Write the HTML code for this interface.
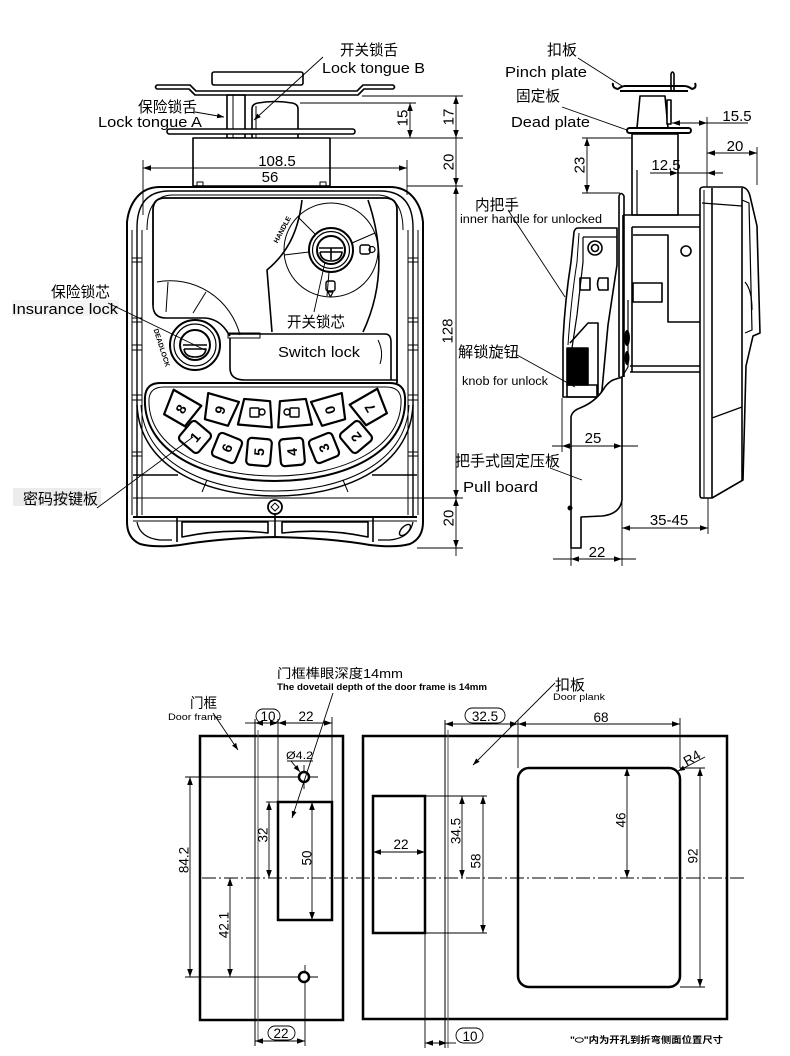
<!DOCTYPE html>
<html><head><meta charset="utf-8"><style>
html,body{margin:0;padding:0;background:#fff;}
svg{display:block;}
</style></head><body>
<svg width="790" height="1056" viewBox="0 0 790 1056" xmlns="http://www.w3.org/2000/svg" font-family="'Liberation Sans','Noto Sans CJK SC',sans-serif">
<defs>
<marker id="ar" viewBox="0 0 10 10" refX="10" refY="5" markerWidth="8" markerHeight="8" markerUnits="userSpaceOnUse" orient="auto-start-reverse"><path d="M0,1.5 L10,5 L0,8.5 Z" fill="#000"/></marker>
<marker id="ar2" viewBox="0 0 10 10" refX="10" refY="5" markerWidth="7" markerHeight="7" markerUnits="userSpaceOnUse" orient="auto"><path d="M0,1.5 L10,5 L0,8.5 Z" fill="#000"/></marker>
</defs>
<rect width="790" height="1056" fill="#fff"/>

<!-- ================= FRONT VIEW ================= -->
<g fill="none" stroke="#000" stroke-width="1.6" stroke-linejoin="round">
  <rect x="212" y="72" width="91" height="13" rx="2" fill="#fff"/>
  <path d="M157,85 L190,85 L196,91 L357,91 L363,85 L393,85 Q396,87 393,89 L364,89 L358,95 L195,95 L189,89 L157,89 Q154,87 157,85Z" fill="#fff"/>
  <rect x="227" y="95" width="18" height="43"/>
  <line x1="233" y1="95" x2="233" y2="138" stroke-width="1"/>
  <path d="M252,138 L252,109 Q252,104 258,103 Q275,100 292,103 Q298,104 298,109 L298,138"/>
  <line x1="256" y1="106" x2="256" y2="138" stroke-width="1"/>
  <rect x="167" y="129" width="188" height="5" rx="2.5" fill="#fff"/>
  <rect x="193" y="138" width="137" height="48" fill="#fff"/>
  <rect x="197" y="182" width="6" height="5" stroke-width="1"/>
  <rect x="320" y="182" width="6" height="5" stroke-width="1"/>

  <path d="M160,187 L390,187 Q402,187 410,194 Q421,204 423,222 L423,522 Q423,538 410,544 Q395,548 370,545 Q330,538 275,537 Q220,538 180,545 Q155,548 140,544 Q127,538 127,522 L127,222 Q129,204 140,194 Q148,187 160,187 Z" stroke-width="2"/>
  <path d="M137,228 Q137,192 168,191 L382,191 Q413,192 413,228 L413,517" stroke-width="1.4"/>
  <path d="M137,228 L137,517" stroke-width="1.4"/>
  <path d="M147,230 Q147,196 172,195 L378,195 Q403,196 403,230" stroke-width="1"/>
  <g stroke-width="1">
    <line x1="132" y1="230" x2="132" y2="515"/>
    <line x1="142" y1="230" x2="142" y2="515"/>
    <line x1="132" y1="258" x2="142" y2="258"/><line x1="132" y1="262" x2="142" y2="262"/>
    <line x1="132" y1="318" x2="142" y2="318"/><line x1="132" y1="322" x2="142" y2="322"/>
    <line x1="132" y1="345" x2="142" y2="345"/><line x1="132" y1="350" x2="142" y2="350"/>
    <line x1="132" y1="395" x2="142" y2="395"/><line x1="132" y1="400" x2="142" y2="400"/>
    <line x1="132" y1="452" x2="142" y2="452"/><line x1="132" y1="456" x2="142" y2="456"/>
    <line x1="408" y1="230" x2="408" y2="515"/>
    <line x1="418" y1="230" x2="418" y2="515"/>
    <line x1="408" y1="258" x2="418" y2="258"/><line x1="408" y1="262" x2="418" y2="262"/>
    <line x1="408" y1="318" x2="418" y2="318"/><line x1="408" y1="322" x2="418" y2="322"/>
    <line x1="408" y1="345" x2="418" y2="345"/><line x1="408" y1="350" x2="418" y2="350"/>
    <line x1="408" y1="395" x2="418" y2="395"/><line x1="408" y1="400" x2="418" y2="400"/>
    <line x1="408" y1="452" x2="418" y2="452"/><line x1="408" y1="456" x2="418" y2="456"/>
  </g>

  <path d="M153,305 L153,210 Q153,198 165,198 L385,198 Q397,198 397,210 L397,383" stroke-width="1.8"/>
  <path d="M153,305 Q153,318 166,318 L205,318 Q218,319 226,330 L230,336"/>
  <rect x="228" y="333" width="32" height="5" stroke-width="1"/>
  <path d="M228,334 L385,334 Q391,334 391,342 L391,380"/>
  <path d="M230,338 L230,368 Q230,380 245,380 L397,380"/>
  <path d="M378,340 Q384,352 380,364" stroke-width="1"/>
  <path d="M157,282 A72,72 0 0 1 240,335" stroke-width="1"/>
  <line x1="168" y1="282" x2="166" y2="312" stroke-width="1"/>
  <line x1="206" y1="292" x2="193" y2="313" stroke-width="1"/>
  <circle cx="195" cy="345" r="25" fill="#fff" stroke-width="2"/>
  <circle cx="195" cy="345" r="21" stroke-width="1.2"/>
  <circle cx="195" cy="345" r="15" stroke-width="2"/>
  <path d="M183,345 L207,345 M184,349 L206,349 Q205,357 195,357 Q185,357 184,349" stroke-width="1.6"/>
  <path d="M302,200 C298,235 285,255 267,270 L272,332"/>
  <path d="M368,200 Q392,270 363,332"/>
  <circle cx="331" cy="250" r="47" stroke-width="1"/>
  <g stroke-width="1">
    <line x1="315" y1="234" x2="298" y2="217"/>
    <line x1="352" y1="243" x2="375" y2="233"/>
    <line x1="309" y1="252" x2="284" y2="255"/>
    <line x1="329" y1="272" x2="327" y2="296"/>
  </g>
  <circle cx="331" cy="250" r="22" fill="#fff" stroke-width="2"/>
  <circle cx="331" cy="250" r="18.5" stroke-width="1.2"/>
  <circle cx="331" cy="250" r="14" stroke-width="2"/>
  <path d="M319,248 L343,248 M320,252 L342,252 Q341,261 331,261 Q321,261 320,252 M331,248 L331,260" stroke-width="1.6"/>
  <rect x="360" y="245" width="10" height="9" rx="2" stroke-width="1.4"/>
  <circle cx="372" cy="249.5" r="3" stroke-width="1.2"/>
  <rect x="326" y="281" width="9" height="10" rx="2" stroke-width="1.4"/>
  <path d="M328,292 L333,292 L330.5,297 Z" stroke-width="1.2"/>

  <path d="M137,405 C140,470 210,496 275,496 C340,496 410,470 413,405" stroke-width="1.5"/>
  <path d="M141,405 C144,466 212,491 275,491 C338,491 406,466 409,405" stroke-width="1"/>
  <path d="M160,383 L390,383 Q404,383 405,397 C408,452 345,481 275,481 C205,481 142,452 145,397 Q146,383 160,383 Z" stroke-width="2" fill="#fff"/>
  <path d="M164,387 L386,387 Q400,387 401,399 C403,448 343,476 275,476 C207,476 147,448 149,399 Q150,387 164,387 Z" stroke-width="1"/>
  <line x1="133" y1="475" x2="178" y2="475" stroke-width="1.4"/>
  <line x1="372" y1="475" x2="417" y2="475" stroke-width="1.4"/>
  <line x1="207" y1="480" x2="202" y2="492" stroke-width="1"/>
  <line x1="343" y1="480" x2="348" y2="492" stroke-width="1"/>
  <line x1="133" y1="517" x2="417" y2="517" stroke-width="2"/>
  <line x1="133" y1="521" x2="417" y2="521" stroke-width="1"/>
  <line x1="177" y1="517" x2="177" y2="542" stroke-width="1.6"/>
  <line x1="275" y1="514" x2="275" y2="538" stroke-width="1.6"/>
  <line x1="373" y1="517" x2="373" y2="542" stroke-width="1.6"/>
  <path d="M182,522 L268,522 L268,533 Q225,528 182,537 Z" stroke-width="1.6"/>
  <path d="M282,522 L368,522 L368,537 Q325,528 282,533 Z" stroke-width="1.6"/>
  <path d="M137,522 Q140,538 160,540 L172,540" stroke-width="1.2"/>
  <path d="M413,522 Q410,538 390,540 L378,540" stroke-width="1.2"/>
  <ellipse cx="405" cy="530" rx="7" ry="3.5" transform="rotate(-45 405 530)" stroke-width="1.4"/>
  <circle cx="275" cy="507" r="7" fill="#fff" stroke-width="1.8"/>
  <path d="M275,503 L279,507 L275,511 L271,507 Z" stroke-width="1"/>
</g>

<!-- keys -->
<g fill="none" stroke="#000" stroke-width="2.2" stroke-linejoin="round">
  <g transform="translate(181,409) rotate(30)"><path d="M-16,-13 L16,-13 L12,13 L-12,13 Z"/></g>
  <g transform="translate(220,410) rotate(16)"><path d="M-16,-13 L16,-13 L12,13 L-12,13 Z"/></g>
  <g transform="translate(256,413) rotate(5)"><path d="M-13,-13 L13,-13 L17,13 L-17,13 Z"/></g>
  <g transform="translate(294,413) rotate(-5)"><path d="M-13,-13 L13,-13 L17,13 L-17,13 Z"/></g>
  <g transform="translate(330,410) rotate(-16)"><path d="M-16,-13 L16,-13 L12,13 L-12,13 Z"/></g>
  <g transform="translate(370,408) rotate(-30)"><path d="M-16,-13 L16,-13 L12,13 L-12,13 Z"/></g>
  <g transform="translate(195,437) rotate(40)"><rect x="-12.5" y="-12.5" width="25" height="25" rx="4"/></g>
  <g transform="translate(227,448) rotate(22)"><rect x="-12.5" y="-12.5" width="25" height="25" rx="4"/></g>
  <g transform="translate(259,452) rotate(5)"><rect x="-12" y="-13.5" width="24" height="27" rx="4"/></g>
  <g transform="translate(292,452) rotate(-5)"><rect x="-12" y="-13.5" width="24" height="27" rx="4"/></g>
  <g transform="translate(324,448) rotate(-22)"><rect x="-12.5" y="-12.5" width="25" height="25" rx="4"/></g>
  <g transform="translate(356,437) rotate(-40)"><rect x="-12.5" y="-12.5" width="25" height="25" rx="4"/></g>
  <g stroke-width="1.4">
    <rect x="250" y="408" width="9" height="9" rx="1"/><circle cx="262" cy="412" r="3"/>
    <rect x="290" y="408" width="9" height="9" rx="1"/><circle cx="287" cy="412" r="3"/>
  </g>
</g>
<g font-weight="bold" font-size="14" fill="#000" text-anchor="middle" dominant-baseline="central" font-family="'Liberation Sans',sans-serif">
  <text transform="translate(181,409) rotate(-60)">8</text>
  <text transform="translate(220,410) rotate(-74)">9</text>
  <text transform="translate(330,410) rotate(-106)">0</text>
  <text transform="translate(370,408) rotate(-120)">7</text>
  <text transform="translate(195,437) rotate(-50)">1</text>
  <text transform="translate(227,448) rotate(-68)">6</text>
  <text transform="translate(259,452) rotate(-85)">5</text>
  <text transform="translate(292,452) rotate(-95)">4</text>
  <text transform="translate(324,448) rotate(-112)">3</text>
  <text transform="translate(356,437) rotate(-130)">2</text>
</g>
<g font-weight="bold" font-size="7" fill="#000" text-anchor="middle" dominant-baseline="central" font-family="'Liberation Sans',sans-serif">
  <text transform="translate(283,230) rotate(-62)">HANDLE</text>
  <text transform="translate(161,348) rotate(72)">DEADLOCK</text>
</g>

<!-- front view dimensions -->
<g stroke="#000" stroke-width="0.9" fill="none">
  <line x1="362" y1="96" x2="463" y2="96"/>
  <line x1="300" y1="103" x2="416" y2="103"/>
  <line x1="330" y1="138" x2="463" y2="138"/>
  <line x1="407" y1="186" x2="463" y2="186"/>
  <line x1="133" y1="498" x2="463" y2="498"/>
  <line x1="417" y1="548" x2="463" y2="548"/>
  <line x1="143" y1="160" x2="143" y2="215"/>
  <line x1="407" y1="160" x2="407" y2="195"/>
  <line x1="143" y1="168" x2="407" y2="168" marker-start="url(#ar)" marker-end="url(#ar)"/>
  <line x1="410" y1="103" x2="410" y2="138" marker-start="url(#ar)" marker-end="url(#ar)"/>
  <line x1="456" y1="96" x2="456" y2="138" marker-start="url(#ar)" marker-end="url(#ar)"/>
  <line x1="456" y1="138" x2="456" y2="186" marker-end="url(#ar)"/>
  <line x1="456" y1="186" x2="456" y2="498" marker-start="url(#ar)" marker-end="url(#ar)"/>
  <line x1="456" y1="498" x2="456" y2="548" marker-start="url(#ar)" marker-end="url(#ar)"/>
  <line x1="456" y1="548" x2="456" y2="556"/>
</g>
<g font-size="15" fill="#000" text-anchor="middle" font-family="'Liberation Sans',sans-serif">
  <text x="277" y="166">108.5</text>
  <text x="270" y="182">56</text>
  <text transform="translate(403,118) rotate(-90)" dominant-baseline="central">15</text>
  <text transform="translate(449,117) rotate(-90)" dominant-baseline="central">17</text>
  <text transform="translate(449,162) rotate(-90)" dominant-baseline="central">20</text>
  <text transform="translate(448,331) rotate(-90)" dominant-baseline="central">128</text>
  <text transform="translate(449,518) rotate(-90)" dominant-baseline="central">20</text>
</g>

<rect x="12" y="300" width="107" height="16" fill="#f4f4f4"/>
<rect x="13" y="488" width="88" height="18" fill="#ececec"/>
<g fill="#000" font-size="15">
  <text x="340" y="55" textLength="58" lengthAdjust="spacingAndGlyphs">开关锁舌</text>
  <text x="322" y="73" textLength="103" lengthAdjust="spacingAndGlyphs">Lock tongue B</text>
  <text x="138" y="112" textLength="59" lengthAdjust="spacingAndGlyphs">保险锁舌</text>
  <text x="98" y="127" textLength="104" lengthAdjust="spacingAndGlyphs">Lock tongue A</text>
  <text x="51" y="297" textLength="59" lengthAdjust="spacingAndGlyphs">保险锁芯</text>
  <text x="12" y="314" textLength="106" lengthAdjust="spacingAndGlyphs">Insurance lock</text>
  <text x="287" y="327" textLength="58" lengthAdjust="spacingAndGlyphs">开关锁芯</text>
  <text x="278" y="357" textLength="82" lengthAdjust="spacingAndGlyphs">Switch lock</text>
  <text x="23" y="504" textLength="75" lengthAdjust="spacingAndGlyphs">密码按键板</text>
</g>
<g stroke="#000" stroke-width="0.9" fill="none">
  <line x1="323" y1="57" x2="254" y2="120" marker-end="url(#ar2)"/>
  <line x1="195" y1="112" x2="224" y2="117" marker-end="url(#ar2)"/>
  <line x1="108" y1="303" x2="205" y2="350"/>
  <line x1="314" y1="312" x2="325" y2="262"/>
  <line x1="97" y1="508" x2="193" y2="437"/>
</g>

<!-- ================= SIDE VIEW ================= -->
<g fill="none" stroke="#000" stroke-width="1.6" stroke-linejoin="round">
  <path d="M671,92 L671,74 Q672.5,70 674,74 L674,92"/>
  <path d="M613,83 Q612,88 618,89 Q622,86 625,86 L684,86 Q688,86 692,89 Q697,88 695,83" stroke-width="2"/>
  <path d="M620,91 L688,91" stroke-width="2"/>
  <path d="M640,96 L665,96 L668,128 L637,128 Z" fill="#fff"/>
  <rect x="667" y="100" width="4" height="24" fill="#fff"/>
  <rect x="627" y="128" width="64" height="5" rx="2.5" fill="#fff" stroke-width="2"/>
  <rect x="632" y="134" width="46" height="81"/>
  <line x1="637" y1="170" x2="637" y2="215" stroke-width="1.2"/>
  <path d="M623,215 L700,215 M632,227 L700,227 M623,215 L623,377 M632,227 L632,372"/>
  <path d="M633,235 L668,235 L668,322 L700,322"/>
  <rect x="633" y="283" width="29" height="19"/>
  <circle cx="686" cy="251" r="5"/>
  <path d="M630,366 L700,366 M630,372 L700,372"/>
  <path d="M619,377 L619,196 Q621,191 624,196 L624,377"/>
  <ellipse cx="627" cy="338" rx="3" ry="8" fill="#000" stroke="none"/>
  <ellipse cx="627" cy="358" rx="2.5" ry="7" fill="#000" stroke="none"/>
  <path d="M700,190 Q700,187 704,187 L742,187 Q748,188 750,196 L757,226 L760,333 L753,336 L746,366 L743,480 L712,498 L702,498 Q700,498 700,495 Z" fill="#fff"/>
  <line x1="704" y1="190" x2="704" y2="498" stroke-width="1"/>
  <line x1="712" y1="188" x2="712" y2="498"/>
  <line x1="742" y1="188" x2="742" y2="480"/>
  <line x1="702" y1="203" x2="742" y2="206" stroke-width="1.2"/>
  <line x1="712" y1="418" x2="742" y2="407" stroke-width="1.2"/>
  <path d="M742,200 L749,203 L752,330 L745,333" stroke-width="1.2"/>
  <path d="M745,282 Q752,290 752,310" stroke-width="1.2"/>
  <!-- handle -->
  <path d="M578,228 L617,228 L617,265 L608,325 L602,390 L600,397 L563,397 L563,340 Q565,300 571,262 L574,232 Q575,228 578,228 Z" fill="#fff"/>
  <path d="M579,233 L577,262 Q571,300 568,345" stroke-width="1"/>
  <path d="M583,237 L617,237 M583,237 L583,262 L577,315 L572,348" stroke-width="1.2"/>
  <circle cx="595" cy="248" r="7"/>
  <circle cx="595" cy="248" r="3.5"/>
  <path d="M599,278 L608,278 L608,290 L599,290 Q596,284 599,278 Z"/>
  <path d="M580,278 L590,278 L590,290 L580,290 Z"/>
  <path d="M570,343 L588,323 L598,323 L598,395"/>
  <rect x="567" y="348" width="21" height="37" fill="#000"/>
  <rect x="567" y="385" width="30" height="12"/>
  <!-- pull board -->
  <path d="M571,548 L571,417 Q572,411 580,408 Q595,402 603,390 Q607,383 613,380 L622,377 L622,500 Q620,514 602,516 L581,517 L581,548 Z" fill="#fff"/>
  <path d="M622,377 L628,367 L628,300" stroke-width="1.2"/>
  <circle cx="570" cy="508" r="2.5" fill="#000" stroke="none"/>
</g>

<g stroke="#000" stroke-width="0.9" fill="none">
  <line x1="582" y1="138" x2="632" y2="138"/>
  <line x1="582" y1="193" x2="620" y2="193"/>
  <line x1="587" y1="138" x2="587" y2="193" marker-start="url(#ar)" marker-end="url(#ar)"/>
  <line x1="707" y1="117" x2="707" y2="187"/>
  <line x1="757" y1="147" x2="757" y2="185"/>
  <line x1="672" y1="123" x2="748" y2="123" marker-start="url(#ar)"/>
  <line x1="690" y1="123" x2="707" y2="123" marker-end="url(#ar)"/>
  <line x1="707" y1="153" x2="757" y2="153" marker-start="url(#ar)" marker-end="url(#ar)"/>
  <line x1="650" y1="173" x2="723" y2="173"/>
  <line x1="665" y1="173" x2="678" y2="173" marker-end="url(#ar)"/>
  <line x1="722" y1="173" x2="707" y2="173" marker-end="url(#ar)"/>
  <line x1="562" y1="398" x2="562" y2="452"/>
  <line x1="552" y1="446" x2="638" y2="446"/>
  <line x1="562" y1="446" x2="622" y2="446" marker-start="url(#ar)" marker-end="url(#ar)"/>
  <line x1="571" y1="548" x2="571" y2="566"/>
  <line x1="622" y1="500" x2="622" y2="566"/>
  <line x1="708" y1="498" x2="708" y2="534"/>
  <line x1="622" y1="528" x2="708" y2="528" marker-start="url(#ar)" marker-end="url(#ar)"/>
  <line x1="553" y1="559" x2="636" y2="559"/>
  <line x1="571" y1="559" x2="622" y2="559" marker-start="url(#ar)" marker-end="url(#ar)"/>
</g>
<g font-size="15" fill="#000" text-anchor="middle" font-family="'Liberation Sans',sans-serif">
  <text transform="translate(580,165) rotate(-90)" dominant-baseline="central">23</text>
  <text x="737" y="121">15.5</text>
  <text x="735" y="151">20</text>
  <text x="666" y="170">12.5</text>
  <text x="593" y="443">25</text>
  <text x="669" y="525">35-45</text>
  <text x="597" y="557">22</text>
</g>
<g fill="#000" font-size="15">
  <text x="547" y="55" textLength="30" lengthAdjust="spacingAndGlyphs">扣板</text>
  <text x="505" y="77" textLength="82" lengthAdjust="spacingAndGlyphs">Pinch plate</text>
  <text x="516" y="101" textLength="44" lengthAdjust="spacingAndGlyphs">固定板</text>
  <text x="511" y="127" textLength="79" lengthAdjust="spacingAndGlyphs">Dead plate</text>
  <text x="475" y="210" textLength="44" lengthAdjust="spacingAndGlyphs">内把手</text>
  <text x="460" y="223" font-size="11.5" textLength="142" lengthAdjust="spacingAndGlyphs">inner handle for unlocked</text>
  <text x="458" y="357" textLength="61" lengthAdjust="spacingAndGlyphs">解锁旋钮</text>
  <text x="462" y="385" font-size="11.5" textLength="86" lengthAdjust="spacingAndGlyphs">knob for unlock</text>
  <text x="455" y="466" textLength="105" lengthAdjust="spacingAndGlyphs">把手式固定压板</text>
  <text x="463" y="492" textLength="75" lengthAdjust="spacingAndGlyphs">Pull board</text>
</g>
<g stroke="#000" stroke-width="0.9" fill="none">
  <line x1="578" y1="58" x2="622" y2="86"/>
  <line x1="562" y1="107" x2="627" y2="130"/>
  <line x1="508" y1="210" x2="565" y2="297"/>
  <line x1="517" y1="355" x2="575" y2="387"/>
  <line x1="550" y1="468" x2="582" y2="480"/>
</g>

<!-- ================= BOTTOM LEFT: DOOR FRAME ================= -->
<g fill="none" stroke="#000">
  <rect x="200" y="736" width="143" height="284" stroke-width="2.5"/>
  <line x1="255" y1="719" x2="255" y2="1046" stroke-width="1"/>
  <line x1="258" y1="730" x2="258" y2="1040" stroke-width="1" stroke="#555"/>
  <line x1="278" y1="719" x2="278" y2="802" stroke-width="0.9"/>
  <line x1="332" y1="717" x2="332" y2="802" stroke-width="0.9"/>
  <rect x="278" y="802" width="54" height="118" stroke-width="2.5"/>
  <line x1="185" y1="777" x2="318" y2="777" stroke-width="0.9"/>
  <line x1="185" y1="977" x2="318" y2="977" stroke-width="0.9"/>
  <line x1="304" y1="765" x2="304" y2="789" stroke-width="0.9"/>
  <line x1="305" y1="965" x2="305" y2="1046" stroke-width="0.9"/>
  <circle cx="304" cy="777" r="5" stroke-width="2.5" fill="#fff"/>
  <circle cx="304" cy="977" r="5" stroke-width="2.5" fill="#fff"/>
  <line x1="266" y1="802" x2="278" y2="802" stroke-width="0.9"/>
  <line x1="305" y1="920" x2="332" y2="920" stroke-width="0.9"/>
</g>
<g stroke="#000" stroke-width="0.9" fill="none">
  <line x1="245" y1="723" x2="255" y2="723"/>
  <line x1="255" y1="723" x2="278" y2="723" marker-start="url(#ar)" marker-end="url(#ar)"/>
  <line x1="278" y1="723" x2="332" y2="723" marker-start="url(#ar)" marker-end="url(#ar)"/>
  <line x1="190" y1="777" x2="190" y2="977" marker-start="url(#ar)" marker-end="url(#ar)"/>
  <line x1="230" y1="878" x2="230" y2="977" marker-start="url(#ar)" marker-end="url(#ar)"/>
  <line x1="269" y1="802" x2="269" y2="878" marker-start="url(#ar)" marker-end="url(#ar)"/>
  <line x1="312" y1="802" x2="312" y2="920" marker-start="url(#ar)" marker-end="url(#ar)"/>
  <line x1="255" y1="1041" x2="305" y2="1041" marker-start="url(#ar)" marker-end="url(#ar)"/>
  <line x1="287" y1="761" x2="313" y2="761"/>
  <line x1="291" y1="761" x2="300" y2="772" marker-end="url(#ar2)"/>
  <line x1="213" y1="713" x2="238" y2="750" marker-end="url(#ar2)"/>
  <line x1="333" y1="693" x2="292" y2="818" marker-end="url(#ar2)"/>
  <rect x="256" y="709" width="24" height="14" rx="7"/>
  <rect x="268" y="1026" width="27" height="14" rx="7"/>
</g>
<line x1="202" y1="878" x2="745" y2="878" stroke="#000" stroke-width="0.9" stroke-dasharray="14 3 2 3"/>
<g font-size="13.5" fill="#000" text-anchor="middle" font-family="'Liberation Sans',sans-serif">
  <text x="268" y="721">10</text>
  <text x="306" y="721">22</text>
  <text x="281" y="1038">22</text>
  <text transform="translate(184,860) rotate(-90)" dominant-baseline="central">84.2</text>
  <text transform="translate(224,925) rotate(-90)" dominant-baseline="central">42.1</text>
  <text transform="translate(263,835) rotate(-90)" dominant-baseline="central">32</text>
  <text transform="translate(307,858) rotate(-90)" dominant-baseline="central">50</text>
</g>
<text x="286" y="759" font-size="11" fill="#000" textLength="27" lengthAdjust="spacingAndGlyphs">Ø4.2</text>
<g fill="#000">
  <text x="190" y="708" font-size="14" textLength="27" lengthAdjust="spacingAndGlyphs">门框</text>
  <text x="168" y="720" font-size="9" textLength="54" lengthAdjust="spacingAndGlyphs">Door frame</text>
  <text x="277" y="678" font-size="13" textLength="126" lengthAdjust="spacingAndGlyphs">门框榫眼深度14mm</text>
  <text x="277" y="690" font-size="9.5" font-weight="bold" textLength="210" lengthAdjust="spacingAndGlyphs">The dovetail depth of the door frame is 14mm</text>
</g>

<!-- ================= BOTTOM RIGHT: DOOR PLANK ================= -->
<g fill="none" stroke="#000">
  <rect x="363" y="736" width="364" height="283" stroke-width="2.5"/>
  <line x1="445" y1="720" x2="445" y2="1048" stroke-width="1"/>
  <line x1="448" y1="730" x2="448" y2="1048" stroke-width="1" stroke="#555"/>
  <rect x="373" y="796" width="52" height="137" stroke-width="2.5"/>
  <line x1="425" y1="933" x2="425" y2="1048" stroke-width="0.9"/>
  <line x1="425" y1="796" x2="487" y2="796" stroke-width="0.9"/>
  <line x1="425" y1="933" x2="487" y2="933" stroke-width="0.9"/>
  <rect x="518" y="768" width="162" height="219" rx="11" stroke-width="2.5"/>
  <line x1="518" y1="720" x2="518" y2="768" stroke-width="0.9"/>
  <line x1="680" y1="718" x2="680" y2="768" stroke-width="0.9"/>
  <line x1="680" y1="768" x2="705" y2="768" stroke-width="0.9"/>
  <line x1="680" y1="987" x2="705" y2="987" stroke-width="0.9"/>
  <line x1="610" y1="768" x2="630" y2="768" stroke-width="0.9"/>
</g>
<g stroke="#000" stroke-width="0.9" fill="none">
  <line x1="445" y1="724" x2="518" y2="724" marker-start="url(#ar)" marker-end="url(#ar)"/>
  <line x1="518" y1="724" x2="680" y2="724" marker-start="url(#ar)" marker-end="url(#ar)"/>
  <line x1="373" y1="852" x2="425" y2="852" marker-start="url(#ar)" marker-end="url(#ar)"/>
  <line x1="462" y1="796" x2="462" y2="878" marker-start="url(#ar)" marker-end="url(#ar)"/>
  <line x1="483" y1="796" x2="483" y2="933" marker-start="url(#ar)" marker-end="url(#ar)"/>
  <line x1="627" y1="768" x2="627" y2="878" marker-start="url(#ar)" marker-end="url(#ar)"/>
  <line x1="700" y1="768" x2="700" y2="987" marker-start="url(#ar)" marker-end="url(#ar)"/>
  <line x1="425" y1="1043" x2="447" y2="1043" marker-start="url(#ar)" marker-end="url(#ar)"/>
  <line x1="447" y1="1043" x2="456" y2="1043"/>
  <line x1="705" y1="757" x2="678" y2="771" marker-end="url(#ar2)"/>
  <line x1="555" y1="683" x2="473" y2="765" marker-end="url(#ar2)"/>
  <rect x="465" y="708" width="40" height="15" rx="7.5"/>
  <rect x="456" y="1028" width="27" height="15" rx="7.5"/>
</g>
<g font-size="13.5" fill="#000" text-anchor="middle" font-family="'Liberation Sans',sans-serif">
  <text x="485" y="721">32.5</text>
  <text x="601" y="722">68</text>
  <text x="401" y="849">22</text>
  <text x="470" y="1041">10</text>
  <text transform="translate(456,831) rotate(-90)" dominant-baseline="central">34.5</text>
  <text transform="translate(476,861) rotate(-90)" dominant-baseline="central">58</text>
  <text transform="translate(621,820) rotate(-90)" dominant-baseline="central">46</text>
  <text transform="translate(693,856) rotate(-90)" dominant-baseline="central">92</text>
  <text transform="translate(692,758) rotate(-30)" dominant-baseline="central">R4</text>
</g>
<g fill="#000">
  <text x="555" y="690" font-size="15" textLength="30" lengthAdjust="spacingAndGlyphs">扣板</text>
  <text x="553" y="700" font-size="9" textLength="52" lengthAdjust="spacingAndGlyphs">Door plank</text>
  <text x="570" y="1043" font-size="9" font-weight="bold" textLength="153" lengthAdjust="spacingAndGlyphs">"⬭"内为开孔到折弯侧面位置尺寸</text>
</g>
</svg>
</body></html>
